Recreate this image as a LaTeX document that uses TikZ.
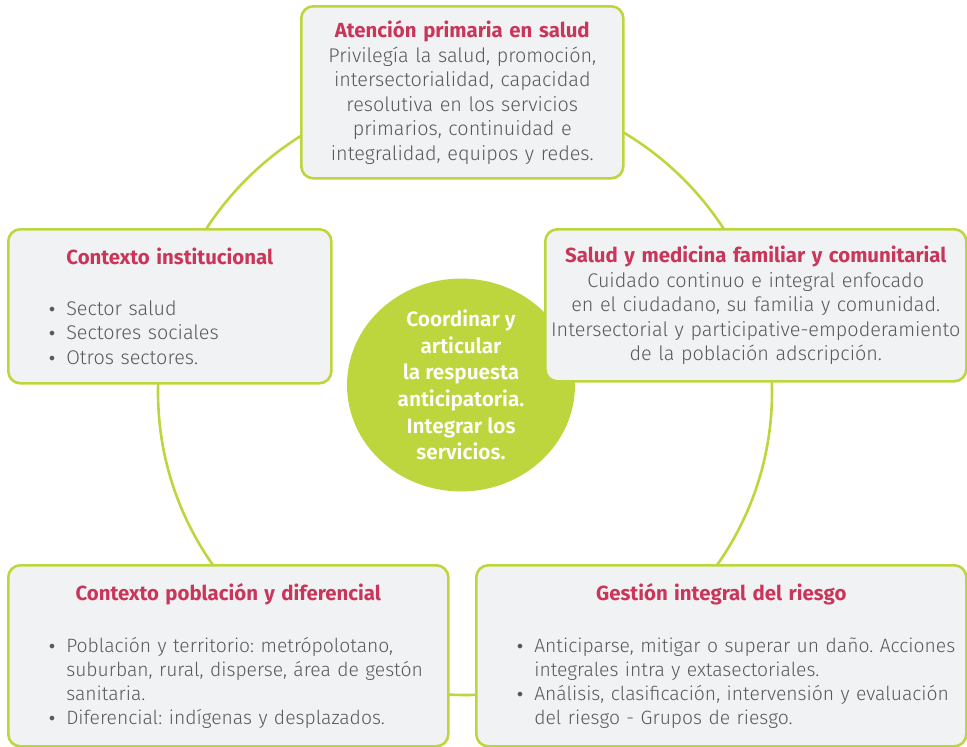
\documentclass[tikz,border=0pt]{standalone}
\usepackage{fontspec}
\setmainfont{Fira Sans Light}[BoldFont={Fira Sans Bold}]
\newfontfamily\semib{Fira Sans SemiBold}
\newfontfamily\dejavu{DejaVu Sans}
\usetikzlibrary{shapes.geometric}
\definecolor{lime}{HTML}{BED63E}
\definecolor{boxfill}{HTML}{F1F2F4}
\definecolor{ttl}{HTML}{C9365A}
\definecolor{bodytxt}{HTML}{58595C}
\newcommand{\ttlfont}{\bfseries\fontsize{20.4}{24.5}\selectfont}
\newcommand{\titleline}[1]{{\centering\color{ttl}\ttlfont #1\par}}
\newcommand{\bulmark}{{\dejavu\fontsize{16}{10}\selectfont •}}
\newcommand{\bul}[1]{\par\noindent\hspace*{37pt}\makebox[19pt][l]{\bulmark}\mbox{#1}\par}
\newcommand{\cont}[1]{\par\noindent\hspace*{56pt}\mbox{#1}\par}
\tikzset{
  card/.style={draw=lime, line width=2.6pt, fill=boxfill, rounded corners=12pt,
    inner xsep=2pt, inner ysep=0pt, anchor=north west, text=bodytxt,
    font=\fontsize{19.8}{24.5}\selectfont\frenchspacing},
  smalltext/.style={font=\fontsize{19.3}{24}\selectfont\frenchspacing},
  ringline/.style={draw=lime, line width=2.6pt, ellipse, inner sep=0pt},
  hubstyle/.style={fill=lime, ellipse, inner sep=0pt, text=white, align=center,
    font=\semib\fontsize{20.8}{26.7}\selectfont}
}
\begin{document}
\begin{tikzpicture}[x=1pt,y=-1pt]
\useasboundingbox (0,0) rectangle (967,747);
\node[ringline, minimum width=614pt, minimum height=606pt] (ring) at (465,392) {};
\node[hubstyle, minimum width=228pt, minimum height=206pt] (hub) at (461,385)
  {Coordinar y\\articular\\la respuesta\\anticipatoria.\\Integrar los\\servicios.};
\node[card, align=center, text width=318pt, minimum height=172pt] (aps) at (300,5)
  {{\color{ttl}\ttlfont Atención primaria en salud}\\
   Privilegía la salud, promoción,\\
   intersectorialidad, capacidad\\
   resolutiva en los servicios\\
   primarios, continuidad e\\
   integralidad, equipos y redes.};
\node[card, text width=319pt, minimum height=154pt] (inst) at (7,228)
  {\titleline{Contexto institucional}\vspace{26pt}%
   \bul{Sector salud}\bul{Sectores sociales}\bul{Otros sectores.}};
\node[card, align=center, text width=417pt, minimum height=152pt] (fam) at (544,228)
  {{\color{ttl}\ttlfont Salud y medicina familiar y comunitarial}\\
   Cuidado continuo e integral enfocado\\
   en el ciudadano, su familia y comunidad.\\
   \mbox{Intersectorial y participative-empoderamiento}\\
   de la población adscripción.};
\node[card, smalltext, text width=436pt, minimum height=181pt] (pob) at (7,564)
  {\titleline{Contexto población y diferencial}\vspace{28pt}%
   \bul{Población y territorio: metrópolotano,}\cont{suburban, rural, disperse, área de gestón}\cont{sanitaria.}%
   \bul{Diferencial: indígenas y desplazados.}};
\node[card, smalltext, text width=486pt, minimum height=181pt] (risk) at (475,564)
  {\titleline{Gestión integral del riesgo}\vspace{28pt}%
   \bul{Anticiparse, mitigar o superar un daño. Acciones}\cont{integrales intra y extasectoriales.}%
   \bul{Análisis, clasificación, intervensión y evaluación}\cont{del riesgo - Grupos de riesgo.}};
\end{tikzpicture}
\end{document}
